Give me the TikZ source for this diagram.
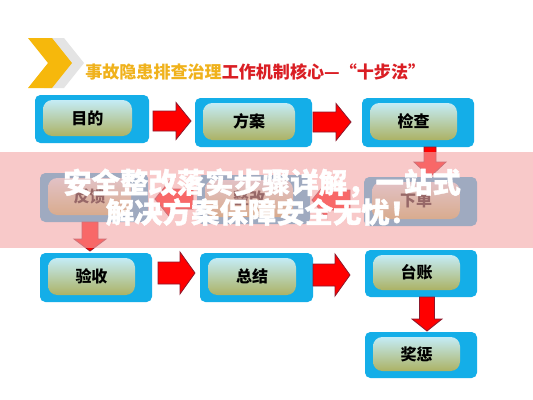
\documentclass[tikz,border=0pt]{standalone}
\usepackage{fontspec}
\newfontfamily\cjk{Noto Sans CJK SC}
\newfontfamily\cjkheavy{Noto Sans CJK SC}[BoldFeatures={FakeBold=1.2}]
\definecolor{boxblue}{RGB}{20,174,232}
\definecolor{innertop}{RGB}{196,236,246}
\definecolor{innerbot}{RGB}{172,178,100}
\definecolor{titleyellow}{RGB}{240,178,28}
\definecolor{titlered}{RGB}{218,30,36}
\definecolor{chevyellow}{RGB}{246,184,12}
\definecolor{chevgrey}{RGB}{228,228,228}
\definecolor{arrowedge}{RGB}{140,24,44}
\definecolor{bannerpink}{RGB}{245,168,168}
\tikzset{
  outerbox/.style={fill=boxblue, rounded corners=4pt},
  innerbox/.style={top color=innertop, bottom color=innerbot, rounded corners=7pt},
  lbl/.style={font=\cjk\bfseries\fontsize{12pt}{14pt}\selectfont, text=black, inner sep=0pt},
  barrow/.style={fill=red, draw=arrowedge, line width=0.6pt, line join=miter},
  bannertxt/.style={font=\cjkheavy\bfseries\fontsize{21.3pt}{24pt}\selectfont, text=white, inner sep=0pt},
}
\newcommand\stepbox[6]{%
  \fill[outerbox] (#2,#3) rectangle (#4,#5);
  \path[innerbox] ({#2+8},{#3+5}) rectangle ({#4-17},{#5-7});
  \node[lbl] (#1) at ({(#2+#4-9)/2},{(#3+#5-2)/2}) {#6};
}
% right arrow: x1 x2 yc shafthalf headhalf headlen
\newcommand\arrR[6]{\draw[barrow] (#1,{#3-#4}) -- ({#2-#6},{#3-#4}) -- ({#2-#6},{#3-#5}) -- (#2,#3) -- ({#2-#6},{#3+#5}) -- ({#2-#6},{#3+#4}) -- (#1,{#3+#4}) -- cycle;}
% left arrow: tip x1, tail x2
\newcommand\arrL[6]{\draw[barrow] (#2,{#3-#4}) -- ({#1+#6},{#3-#4}) -- ({#1+#6},{#3-#5}) -- (#1,#3) -- ({#1+#6},{#3+#5}) -- ({#1+#6},{#3+#4}) -- (#2,{#3+#4}) -- cycle;}
% down arrow: xc y1 y2 shafthalf headhalf headlen
\newcommand\arrD[6]{\draw[barrow] ({#1-#4},#2) -- ({#1-#4},{#3-#6}) -- ({#1-#5},{#3-#6}) -- (#1,#3) -- ({#1+#5},{#3-#6}) -- ({#1+#4},{#3-#6}) -- ({#1+#4},#2) -- cycle;}
\begin{document}
\begin{tikzpicture}[x=0.75pt,y=-0.75pt]
\useasboundingbox[fill=white] (0,0) rectangle (533,400);
% chevrons
\fill[chevgrey] (44,38) -- (64,38) -- (84,63) -- (64,88) -- (44,88) -- (64,63) -- cycle;
\fill[chevyellow] (28,38) -- (52,38) -- (72,63) -- (52,88) -- (28,88) -- (48,63) -- cycle;
% title
\node[anchor=west, inner sep=0pt, font=\cjk\bfseries\fontsize{12.8pt}{15pt}\selectfont] (title) at (85,72)
  {\textcolor{titleyellow}{事故隐患排查治理}\textcolor{titlered}{工作机制核心—“十步法”}};
% row 1
\stepbox{mudi}{35}{95}{149}{143}{目的}
\stepbox{fangan}{195}{98}{312}{147}{方案}
\stepbox{jiancha}{362}{98}{474}{147}{检查}
% row 2
\stepbox{fankui}{40}{173}{148}{222}{反馈}
\stepbox{zhenggai}{197}{175}{310}{224}{整改}
\stepbox{xiadan}{364}{177}{477}{226}{下单}
% row 3
\stepbox{yanshou}{40}{253}{152}{302}{验收}
\stepbox{zongjie}{200}{253}{313}{302}{总结}
\stepbox{taizhang}{365}{250}{477}{297}{台账}
\stepbox{jiangcheng}{365}{332}{477}{378}{奖惩}
% arrows
\arrR{153}{191}{121}{10}{18.5}{15}
\arrR{313}{351}{122}{10}{18.5}{15}
\arrD{430}{147}{177}{6}{16}{15}
\arrL{155}{193}{199}{10}{18.5}{15}
\arrL{312}{350}{200}{10}{18.5}{15}
\arrD{90}{222}{251}{8}{16}{12}
\arrR{158}{195}{273}{11}{21}{15}
\arrR{313}{350}{275}{11}{21}{15}
\arrD{427}{297}{331}{7.5}{15}{12}
% banner
\fill[bannerpink, opacity=0.62] (0,152) rectangle (533,248);
\node[bannertxt] (bline1) at (262,183) {安全整改落实步骤详解，一站式};
\node[bannertxt] (bline2) at (262,212) {解决方案保障安全无忧！};
\end{tikzpicture}
\end{document}
